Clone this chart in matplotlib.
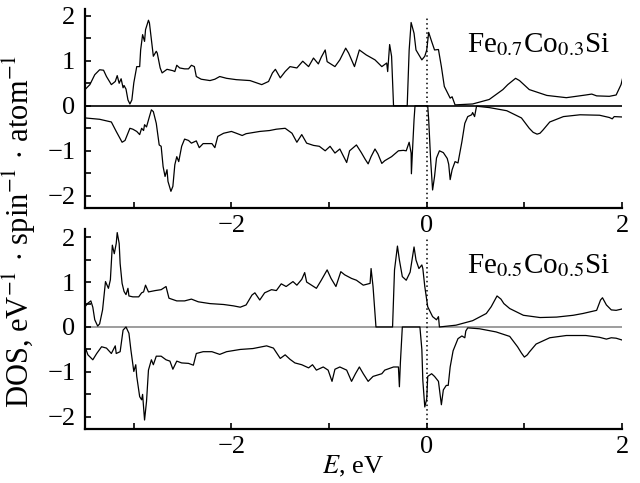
import numpy as np
import matplotlib
matplotlib.use("Agg")
import matplotlib.pyplot as plt

# Fe0.7Co0.3Si, spin up (E in eV, DOS)
fe07_up_e = [-3.50, -3.45, -3.40, -3.35, -3.31, -3.28, -3.23, -3.19, -3.17, -3.15, -3.13, -3.11, -3.10, -3.08,
             -3.06, -3.04, -3.02, -3.00, -2.97, -2.94, -2.93, -2.91, -2.89, -2.88, -2.85, -2.84, -2.82, -2.80,
             -2.77, -2.76, -2.73, -2.71, -2.66, -2.60, -2.58, -2.56, -2.53, -2.48, -2.44, -2.41, -2.38, -2.36,
             -2.31, -2.22, -2.17, -2.12, -2.05, -1.95, -1.81, -1.69, -1.62, -1.58, -1.55, -1.50, -1.45, -1.40,
             -1.33, -1.27, -1.21, -1.16, -1.11, -1.08, -1.04, -1.02, -0.94, -0.89, -0.83, -0.80, -0.74, -0.69,
             -0.62, -0.53, -0.46, -0.41, -0.40, -0.38, -0.36, -0.34, -0.20, -0.18, -0.16, -0.13, -0.11, -0.05,
             -0.02, 0.00, 0.02, 0.05, 0.08, 0.12, 0.15, 0.18, 0.24, 0.26, 0.29, 0.47, 0.64, 0.78, 0.83, 0.87, 0.91,
             0.95, 0.99, 1.05, 1.23, 1.43, 1.63, 1.69, 1.74, 1.87, 1.94, 1.99, 2.01]
fe07_up = [0.36, 0.47, 0.69, 0.80, 0.79, 0.65, 0.47, 0.54, 0.67, 0.50, 0.60, 0.40, 0.45, 0.37,
           0.13, 0.04, 0.13, 0.51, 0.87, 0.87, 1.24, 1.58, 1.43, 1.69, 1.90, 1.84, 1.47, 1.10,
           1.21, 1.17, 0.84, 0.73, 0.81, 0.78, 0.76, 0.90, 0.84, 0.82, 0.82, 0.90, 0.87, 0.65,
           0.59, 0.56, 0.59, 0.65, 0.61, 0.58, 0.56, 0.47, 0.54, 0.73, 0.81, 0.62, 0.76, 0.87,
           0.84, 0.99, 0.87, 1.06, 0.93, 1.08, 1.24, 0.98, 0.87, 1.02, 1.28, 1.17, 0.87, 1.24,
           1.13, 1.02, 0.87, 0.95, 0.76, 1.36, 1.10, 0.00, 0.00, 1.24, 1.85, 1.61, 1.24, 1.02,
           1.10, 1.24, 1.63, 1.43, 1.24, 1.25, 0.87, 0.43, 0.17, 0.20, 0.02, 0.04, 0.14, 0.36, 0.47, 0.54, 0.61,
           0.56, 0.48, 0.36, 0.23, 0.18, 0.24, 0.26, 0.22, 0.21, 0.24, 0.47, 0.65]

# Fe0.7Co0.3Si, spin down
fe07_dn_e = [-3.50, -3.35, -3.23, -3.18, -3.12, -3.09, -3.04, -3.01, -2.97, -2.94, -2.92, -2.90, -2.89, -2.87,
             -2.84, -2.82, -2.80, -2.77, -2.74, -2.72, -2.70, -2.68, -2.66, -2.65, -2.62, -2.60, -2.58, -2.56,
             -2.54, -2.51, -2.48, -2.44, -2.41, -2.36, -2.33, -2.29, -2.20, -2.17, -2.14, -2.08, -2.00, -1.95,
             -1.89, -1.85, -1.71, -1.61, -1.54, -1.45, -1.38, -1.33, -1.28, -1.23, -1.16, -1.10, -1.04, -0.99,
             -0.94, -0.89, -0.86, -0.82, -0.79, -0.72, -0.67, -0.63, -0.60, -0.57, -0.53, -0.50, -0.46, -0.43,
             -0.36, -0.29, -0.24, -0.21, -0.18, -0.16, -0.157, -0.146, -0.13, -0.12, 0.01, 0.02, 0.04, 0.06,
             0.08, 0.10, 0.13, 0.17, 0.21, 0.225, 0.24, 0.26, 0.29, 0.32, 0.36, 0.39, 0.42, 0.46, 0.47, 0.49,
             0.51, 0.64, 0.82, 0.97, 1.05, 1.09, 1.13, 1.16, 1.19, 1.26, 1.40, 1.57, 1.77, 1.87, 1.90, 1.92, 2.01]
fe07_dn = [-0.27, -0.30, -0.36, -0.57, -0.81, -0.77, -0.50, -0.52, -0.57, -0.64, -0.50, -0.55, -0.42, -0.47,
           -0.24, -0.09, -0.13, -0.39, -0.87, -0.90, -1.35, -1.57, -1.42, -1.68, -1.90, -1.79, -1.31, -1.13,
           -1.24, -0.90, -0.74, -0.77, -0.83, -0.78, -0.93, -0.84, -0.84, -0.93, -0.68, -0.61, -0.57, -0.61,
           -0.66, -0.62, -0.57, -0.55, -0.52, -0.50, -0.61, -0.81, -0.64, -0.83, -0.88, -0.90, -1.00, -0.90,
           -1.05, -0.96, -1.09, -1.26, -1.00, -0.87, -1.04, -1.19, -1.29, -1.13, -0.96, -1.07, -1.28, -1.22,
           -1.13, -1.00, -0.99, -1.00, -0.81, -1.05, -1.51, -1.00, -0.31, 0.00, 0.00, -0.31, -1.20, -1.87,
           -1.57, -1.16, -1.00, -1.04, -1.17, -1.30, -1.64, -1.42, -1.24, -1.27, -0.80, -0.39, -0.24, -0.20, -0.15, -0.24,
           -0.01, -0.04, -0.11, -0.27, -0.50, -0.59, -0.63, -0.61, -0.54, -0.36, -0.24, -0.20, -0.21, -0.26, -0.29, -0.24, -0.25]

# Fe0.5Co0.5Si, spin up
fe05_up_e = [-3.50, -3.47, -3.44, -3.42, -3.40, -3.37, -3.35, -3.32, -3.29, -3.26, -3.24, -3.22, -3.20, -3.18,
             -3.17, -3.15, -3.14, -3.12, -3.10, -3.08, -3.06, -3.05, -3.01, -2.95, -2.92, -2.90, -2.88, -2.85,
             -2.78, -2.72, -2.67, -2.64, -2.56, -2.48, -2.41, -2.34, -2.22, -2.08, -1.98, -1.91, -1.85, -1.79,
             -1.76, -1.71, -1.66, -1.59, -1.54, -1.49, -1.44, -1.37, -1.33, -1.28, -1.25, -1.23, -1.18, -1.13,
             -1.08, -1.02, -0.98, -0.93, -0.88, -0.84, -0.77, -0.72, -0.65, -0.58, -0.57, -0.55, -0.52, -0.35,
             -0.33, -0.30, -0.28, -0.25, -0.21, -0.17, -0.13, -0.11, -0.08, -0.05, -0.04, -0.02, 0.01, 0.06,
             0.10, 0.12, 0.13, 0.30, 0.47, 0.61, 0.66, 0.72, 0.76, 0.79, 0.85, 0.99, 1.16, 1.33, 1.50, 1.60, 1.74,
             1.78, 1.80, 1.84, 1.89, 1.94, 2.00]
fe05_up = [0.45, 0.53, 0.58, 0.44, 0.16, 0.02, 0.07, 0.38, 1.01, 0.86, 1.05, 1.82, 1.63, 1.86,
           2.10, 1.86, 1.41, 0.97, 0.79, 0.72, 0.86, 0.69, 0.67, 0.67, 0.76, 0.78, 0.93, 0.78,
           0.81, 0.83, 0.90, 0.64, 0.58, 0.58, 0.62, 0.56, 0.52, 0.50, 0.47, 0.44, 0.49, 0.71,
           0.76, 0.60, 0.76, 0.83, 0.81, 0.96, 0.90, 1.01, 0.93, 1.06, 1.21, 1.00, 0.93, 0.86,
           1.04, 1.27, 1.08, 0.90, 1.23, 1.16, 1.08, 1.04, 0.93, 0.97, 1.30, 0.90, 0.00, 0.00,
           1.27, 1.80, 1.49, 1.12, 1.04, 1.22, 1.78, 1.49, 1.30, 1.38, 1.30, 0.90, 0.45, 0.23,
           0.16, 0.23, 0.00, 0.04, 0.14, 0.30, 0.45, 0.69, 0.62, 0.52, 0.41, 0.26, 0.21, 0.22, 0.26, 0.30, 0.37,
           0.60, 0.65, 0.49, 0.38, 0.37, 0.40]

# Fe0.5Co0.5Si, spin down
fe05_dn_e = [-3.50, -3.47, -3.42, -3.38, -3.33, -3.28, -3.23, -3.19, -3.18, -3.14, -3.11, -3.08, -3.05, -3.03,
             -3.00, -2.98, -2.97, -2.94, -2.92, -2.91, -2.89, -2.87, -2.85, -2.82, -2.80, -2.77, -2.72, -2.67,
             -2.63, -2.60, -2.56, -2.51, -2.44, -2.39, -2.36, -2.29, -2.20, -2.12, -2.05, -1.91, -1.78, -1.64,
             -1.57, -1.50, -1.45, -1.40, -1.35, -1.28, -1.21, -1.17, -1.13, -1.06, -1.01, -0.97, -0.94, -0.89,
             -0.82, -0.77, -0.73, -0.69, -0.65, -0.60, -0.55, -0.46, -0.43, -0.34, -0.29, -0.28, -0.27, -0.25,
             -0.07, -0.05, -0.04, -0.02, 0.00, 0.01, 0.05, 0.08, 0.12, 0.15, 0.17, 0.20, 0.22, 0.24, 0.27, 0.32,
             0.36, 0.39, 0.40, 0.42, 0.54, 0.71, 0.85, 0.93, 0.97, 1.00, 1.03, 1.05, 1.12, 1.26, 1.43, 1.63, 1.77, 1.84,
             1.89, 1.94, 2.00]
fe05_dn = [-0.44, -0.62, -0.73, -0.59, -0.44, -0.47, -0.59, -0.42, -0.59, -0.55, -0.07, 0.00, -0.14, -0.51,
           -0.99, -0.84, -1.10, -1.55, -1.62, -1.50, -2.07, -1.66, -0.96, -0.73, -0.84, -0.65, -0.65, -0.73,
           -0.76, -0.94, -0.76, -0.80, -0.81, -0.85, -0.59, -0.55, -0.55, -0.61, -0.55, -0.50, -0.48, -0.42,
           -0.47, -0.70, -0.62, -0.72, -0.80, -0.84, -0.91, -0.84, -0.96, -0.89, -0.96, -1.21, -0.94, -0.89,
           -0.96, -1.21, -1.04, -0.89, -1.04, -1.21, -1.10, -1.04, -0.96, -0.89, -0.89, -1.33, -0.80, 0.00,
           0.00, -0.50, -1.19, -1.78, -1.60, -1.10, -1.04, -1.10, -1.21, -1.73, -1.40, -1.30, -1.30, -0.89, -0.53, -0.26,
           -0.20, -0.24, -0.09, -0.02, -0.04, -0.11, -0.21, -0.44, -0.58, -0.67, -0.62, -0.56, -0.38, -0.24, -0.19, -0.19,
           -0.23, -0.27, -0.24, -0.25, -0.29]

labels = ["Fe$_{0.7}$Co$_{0.3}$Si", "Fe$_{0.5}$Co$_{0.5}$Si"]
x_ticks = [-3, -2, -1, 0, 1, 2]
x_ticklabels = ["", "\u22122", "", "0", "", "2"]
y_ticks = [-2, -1.5, -1, -0.5, 0, 0.5, 1, 1.5, 2]
y_ticklabels = ["\u22122", "", "\u22121", "", "0", "", "1", "", "2"]

plt.rcParams["font.family"] = ["Liberation Serif", "DejaVu Serif"]
plt.rcParams["mathtext.fontset"] = "stix"

fig = plt.figure(figsize=(6.4, 4.83), dpi=100)
ax_top = fig.add_axes([0.1328, 0.5694, 0.8391, 0.4120])
ax_bot = fig.add_axes([0.1328, 0.1118, 0.8391, 0.4141])

panels = [
    (ax_top, fe07_up_e, fe07_up, fe07_dn_e, fe07_dn, labels[0], "black", (-2.27, 2.15)),
    (ax_bot, fe05_up_e, fe05_up, fe05_dn_e, fe05_dn, labels[1], "0.55", (-2.27, 2.18)),
]

for ax, ue, u, de, d, lab, zcol, ylim in panels:
    ax.axhline(0, color=zcol, lw=1.2, zorder=1)
    ax.vlines(0, ylim[0], 2.0, colors="black", linestyles=(0, (1, 2)), lw=1.1, zorder=1)
    ax.plot(ue, u, color="black", lw=0.9, zorder=2)
    ax.plot(de, d, color="black", lw=0.9, zorder=2)
    ax.set_xlim(-3.5, 2.0)
    ax.set_ylim(*ylim)
    ax.set_xticks(x_ticks)
    ax.set_xticklabels(x_ticklabels)
    ax.set_yticks(y_ticks)
    ax.set_yticklabels(y_ticklabels)
    ax.tick_params(direction="in", length=4.5, width=1.2, labelsize=19, pad=5)
    ax.tick_params(axis="y", pad=7)
    for s in ["top", "right"]:
        ax.spines[s].set_visible(False)
    for s in ["left", "bottom"]:
        ax.spines[s].set_linewidth(1.6)
    ax.text(0.41, 1.2, lab, fontsize=21, ha="left", va="baseline")
    ax.patch.set_alpha(0)

fig.text(0.03, 0.52, "DOS, eV$^{-1}\\,\\cdot\\,$spin$^{-1}\\,\\cdot\\,$atom$^{-1}$",
         rotation=90, fontsize=22, ha="center", va="center")
fig.text(0.552, 0.035, "$E$, eV", fontsize=19, ha="center", va="center")

fig.savefig("out.png", dpi=100)
